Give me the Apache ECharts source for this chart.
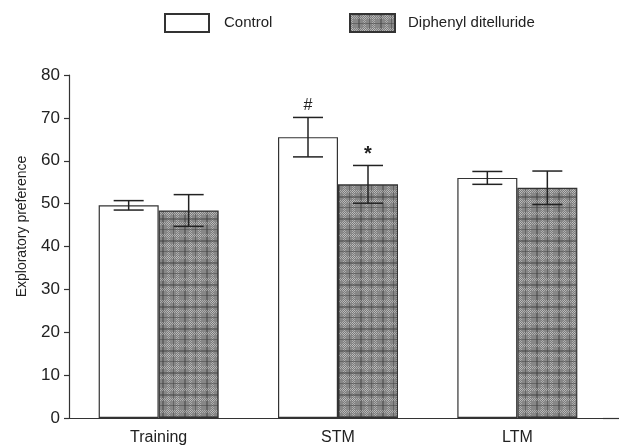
<!DOCTYPE html>
<html>
<head>
<meta charset="utf-8">
<script src="https://cdn.jsdelivr.net/npm/echarts@6/dist/echarts.min.js"></script>
<style>html,body{margin:0;padding:0;background:#fff}#c{width:619px;height:446px}</style>
</head>
<body>
<div id="c"></div>
<script>
var categories = ['Training', 'STM', 'LTM'];
var seriesNames = ['Control', 'Diphenyl ditelluride'];
var controlMean = [49.6, 65.5, 56.0];
var controlErr = [1.1, 4.6, 1.5];
var diphMean = [48.4, 54.5, 53.7];
var diphErr = [3.7, 4.4, 3.9];
var controlMarks = ['', '#', ''];
var diphMarks = ['', '*', ''];
var yTicks = [0, 10, 20, 30, 40, 50, 60, 70, 80];

function makePattern() {
  var c = document.createElement('canvas');
  c.width = 22; c.height = 22;
  var g = c.getContext('2d');
  g.fillStyle = '#878787';
  g.fillRect(0, 0, 22, 22);
  var vb = [[0, 3, 'light'], [8, 2, 'dark'], [13, 3, 'light'], [19, 1, 'dark']];
  var hb = [[2, 3, 'light'], [9, 1, 'dark'], [14, 3, 'light'], [20, 2, 'dark']];
  function band(x, y, w, h, kind) {
    for (var yy = y; yy < y + h; yy++) for (var xx = x; xx < x + w; xx++) {
      if (kind === 'light') g.fillStyle = ((xx + yy) % 2 === 0) ? 'rgba(205,205,205,0.55)' : 'rgba(110,110,110,0.3)';
      else g.fillStyle = 'rgba(60,60,60,0.45)';
      g.fillRect(xx, yy, 1, 1);
    }
  }
  vb.forEach(function (b) { band(b[0], 0, b[1], 22, b[2]); });
  hb.forEach(function (b) { band(0, b[0], 22, b[1], b[2]); });
  return c;
}
var pattern = { image: makePattern(), repeat: 'repeat' };

var BAR_W = 60;
var FONT = '"Liberation Sans", Arial, Helvetica, sans-serif';
function errSeries(means, errs, marks, side) {
  var data = means.map(function (m, i) { return [i, m, errs[i]]; });
  return {
    type: 'custom',
    z: 5,
    silent: true,
    data: data,
    encode: { x: 0, y: 1 },
    renderItem: function (params, api) {
      var i = api.value(0), m = api.value(1), e = api.value(2);
      var mark = marks[params.dataIndex];
      var base = api.coord([i, m]);
      var cx = base[0] + side * BAR_W / 2;
      var top = api.coord([i, m + e])[1];
      var bot = api.coord([i, m - e])[1];
      var hw = BAR_W / 4;
      var st = { stroke: '#222', lineWidth: 1.5 };
      var ch = [
        { type: 'line', shape: { x1: cx, y1: top, x2: cx, y2: bot }, style: st },
        { type: 'line', shape: { x1: cx - hw, y1: top, x2: cx + hw, y2: top }, style: st },
        { type: 'line', shape: { x1: cx - hw, y1: bot, x2: cx + hw, y2: bot }, style: st }
      ];
      if (mark) {
        ch.push({ type: 'text', style: { text: mark, x: cx, y: top - (mark === '*' ? 1 : 4), align: 'center', verticalAlign: 'bottom',
          font: (mark === '*' ? 'bold 20px ' : '16px ') + FONT, fill: '#222' } });
      }
      return { type: 'group', children: ch };
    }
  };
}

var chart = echarts.init(document.getElementById('c'));
chart.setOption({
  animation: false,
  backgroundColor: '#fff',
  textStyle: { fontFamily: FONT },
  legend: [
    { data: [seriesNames[0]], left: 159, top: 8, itemWidth: 44, itemHeight: 18, icon: 'rect',
      textStyle: { fontSize: 15, color: '#222', padding: [0, 0, 0, 10] } },
    { data: [seriesNames[1]], left: 344, top: 8, itemWidth: 45, itemHeight: 18, icon: 'rect',
      textStyle: { fontSize: 15, color: '#222', padding: [0, 0, 0, 8] } }
  ],
  grid: { left: 69, right: 12, top: 75, bottom: 28 },
  xAxis: {
    type: 'category', data: categories,
    axisLine: { lineStyle: { color: '#333', width: 1.2 } },
    axisTick: { show: false },
    axisLabel: { fontSize: 16, color: '#222', margin: 12 }
  },
  yAxis: {
    type: 'value', min: yTicks[0], max: yTicks[yTicks.length - 1], interval: 10,
    name: 'Exploratory preference', nameLocation: 'middle', nameGap: 40,
    nameTextStyle: { fontSize: 14, color: '#222', padding: [0, 0, 0, 40] },
    axisLine: { show: true, lineStyle: { color: '#333', width: 1.2 } },
    axisTick: { show: true, length: 5, lineStyle: { color: '#333', width: 1.2 } },
    splitLine: { show: false },
    axisLabel: { fontSize: 17, color: '#222', margin: 9 }
  },
  series: [
    { name: seriesNames[0], type: 'bar', data: controlMean, barWidth: BAR_W, barGap: '0%',
      itemStyle: { color: '#fff', borderColor: '#333', borderWidth: 1.2 } },
    { name: seriesNames[1], type: 'bar', data: diphMean, barWidth: BAR_W, barGap: '0%',
      itemStyle: { color: pattern, borderColor: '#333', borderWidth: 1.2 } },
    errSeries(controlMean, controlErr, controlMarks, -1),
    errSeries(diphMean, diphErr, diphMarks, 1)
  ]
});
// extend x-axis baseline to the right edge, as in the reference (match ECharts sub-pixel snapping)
var y0 = Math.round(chart.convertToPixel({ yAxisIndex: 0 }, 0)) + 0.5;
var xEnd = chart.getWidth() - 12;
chart.setOption({
  graphic: [{ type: 'line', shape: { x1: xEnd - 4, y1: y0, x2: chart.getWidth(), y2: y0 },
    style: { stroke: '#333', lineWidth: 1.2 }, z: 10 }]
});
</script>
</body>
</html>
